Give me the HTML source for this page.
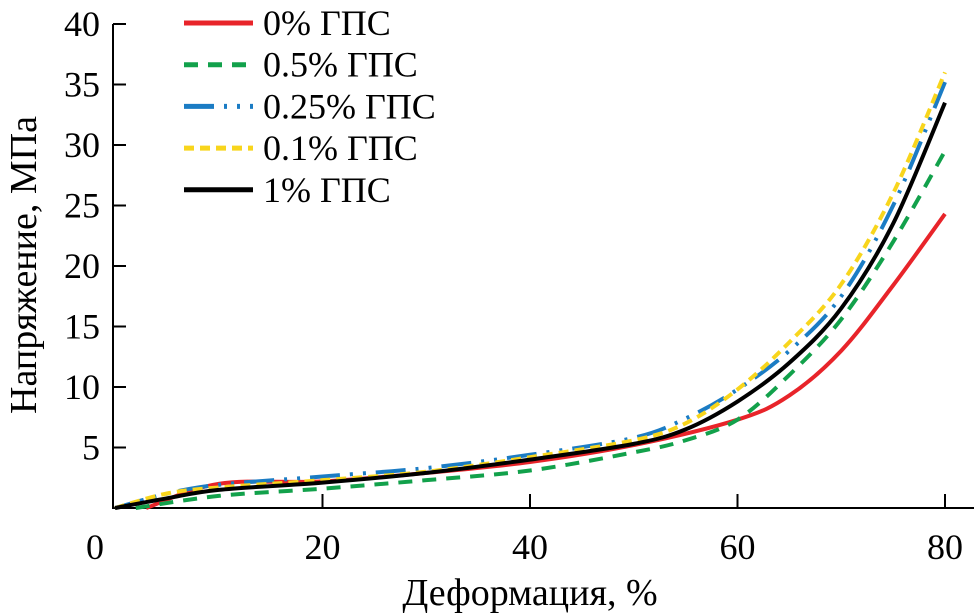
<!DOCTYPE html>
<html><head><meta charset="utf-8"><style>
body{margin:0;background:#fff}
svg{display:block}
text{font-family:"Liberation Serif","Noto Serif CJK SC","DejaVu Serif",serif}
</style></head><body>
<svg id="c" width="974" height="614" viewBox="0 0 974 614"></svg>
<script>
const xTicks=[0,20,40,60,80];
const yTicks=[5,10,15,20,25,30,35,40];
const seriesNames=["0% ГПС","0.5% ГПС","0.25% ГПС","0.1% ГПС","1% ГПС"];
const xs0=[3,10,20,30,40,50,60,65,70,75,80];
const ys0=[0,2.0,2.2,2.9,3.8,5.2,7.3,9.3,13,18.4,24.3];
const xs1=[2,10,20,30,40,50,55,60,65,70,75,80];
const ys1=[0,1.0,1.6,2.3,3.1,4.6,5.6,7.3,11,15.6,22,29.5];
const xs2=[0,8,20,30,40,50,55,60,65,70,75,80];
const ys2=[0,1.7,2.6,3.3,4.4,5.8,7.4,9.8,13,17.5,25,35.2];
const xs3=[0,5,10,20,30,40,50,55,60,65,70,75,80];
const ys3=[0,1.2,1.7,2.3,3.0,4.2,5.6,7.0,9.8,13.7,18.5,26,36];
const xs4=[0,5,10,20,30,40,50,55,60,65,70,75,80];
const ys4=[0,0.8,1.5,2.1,2.9,4.0,5.3,6.5,8.8,12,16.5,23.5,33.5];

const X=v=>115+v*(945-115)/80;
const Y=v=>508-v*(508-24)/40;
const svg=document.getElementById('c');
const NS='http://www.w3.org/2000/svg';
const FF='"Liberation Serif","Noto Serif CJK SC","DejaVu Serif",serif';
function mk(t,a,p){const e=document.createElementNS(NS,t);for(const k in a)e.setAttribute(k,a[k]);if(t==='text')e.setAttribute('font-family',FF);(p||svg).appendChild(e);return e;}
function path(xs,ys){const p=xs.map((x,i)=>[X(x),Y(ys[i])]);let d='M'+p[0][0]+','+p[0][1];
for(let i=0;i<p.length-1;i++){const p0=p[i-1]||p[i],p1=p[i],p2=p[i+1],p3=p[i+2]||p2;
d+=' C'+(p1[0]+(p2[0]-p0[0])/6)+','+(p1[1]+(p2[1]-p0[1])/6)+' '+(p2[0]-(p3[0]-p1[0])/6)+','+(p2[1]-(p3[1]-p1[1])/6)+' '+p2[0]+','+p2[1];}return d;}
const styles=[{c:'#e8242a',d:''},{c:'#12a14b',d:'14 10'},{c:'#1b7cc4',d:'30 10 3 10 3 10'},{c:'#f8d51c',d:'10 6'},{c:'#000',d:''}];
const data=[[xs0,ys0],[xs1,ys1],[xs2,ys2],[xs3,ys3],[xs4,ys4]];
let e=mk('line',{x1:113,y1:24,x2:113,y2:509,stroke:'#000','stroke-width':2});

e=mk('line',{x1:112,y1:508,x2:974,y2:508,stroke:'#000','stroke-width':2});

xTicks.forEach(v=>{if(v>0){const t=mk('line',{x1:X(v),y1:508,x2:X(v),y2:494,stroke:'#000','stroke-width':2});
}
const l=mk('text',{x:X(v)-(v==0?20:0),y:559,'font-size':36,'text-anchor':'middle'});l.textContent=v;
});
yTicks.forEach(v=>{const t=mk('line',{x1:113,y1:Y(v),x2:126,y2:Y(v),stroke:'#000','stroke-width':2});

const l=mk('text',{x:100,y:Y(v)+12,'font-size':36,'text-anchor':'end'});l.textContent=v;
});
e=mk('text',{x:530,y:605,'font-size':38,'text-anchor':'middle'});e.textContent='Деформация, %';

e=mk('text',{x:36,y:265,'font-size':38,'text-anchor':'middle',transform:'rotate(-90 36 265)'});e.textContent='Напряжение, МПа';

data.forEach((s,i)=>{const p=mk('path',{d:path(s[0],s[1]),fill:'none',stroke:styles[i].c,'stroke-width':4,'stroke-dasharray':styles[i].d});
});
seriesNames.forEach((n,i)=>{const y=23+i*41.7;
const l=mk('line',{x1:184,y1:y,x2:253,y2:y,stroke:styles[i].c,'stroke-width':5,'stroke-dasharray':styles[i].d});

const t=mk('text',{x:263,y:y+12,'font-size':36});t.textContent=n;
});
</script>
</body></html>
